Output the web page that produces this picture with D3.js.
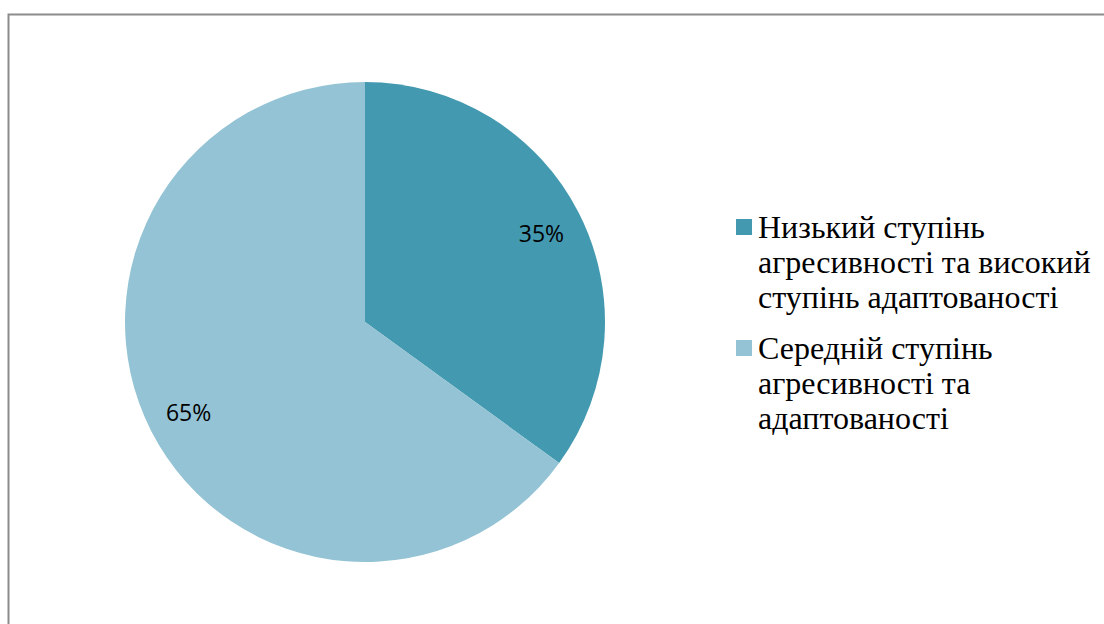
<!DOCTYPE html>
<meta charset="utf-8">
<style>
  body { margin: 0; background: #fff; }
  svg { display: block; }
</style>
<body>
<div id="chart"></div>
<script src="https://cdn.jsdelivr.net/npm/d3@7"></script>
<script>

var categories = [
  ["Низький ступінь", "агресивності та високий", "ступінь адаптованості"],
  ["Середній ступінь", "агресивності та", "адаптованості"]
];
var values = [35, 65];
var labels = ["35%", "65%"];
var colors = ["#4399b0", "#93c3d4"];

var width = 1104,
    height = 624;

var svg = d3.select("#chart").append("svg")
    .attr("width", width)
    .attr("height", height);

// chart frame (runs off right & bottom)
svg.append("rect")
    .attr("x", 8.5)
    .attr("y", 14.5)
    .attr("width", width)
    .attr("height", height)
    .attr("fill", "none")
    .attr("stroke", "#8c8c8c")
    .attr("stroke-width", 2);

var cx = 365, cy = 322, r = 240;

var pie = d3.pie().sort(null);
var arc = d3.arc().innerRadius(0).outerRadius(r);
var labelArc = d3.arc().innerRadius(198).outerRadius(198);

var g = svg.append("g").attr("transform", "translate(" + cx + "," + cy + ")");

var slices = g.selectAll("g.slice")
    .data(pie(values))
  .enter().append("g")
    .attr("class", "slice");

slices.append("path")
    .attr("d", arc)
    .attr("fill", function(d, i) { return colors[i]; });

slices.append("text")
    .attr("transform", function(d) { return "translate(" + labelArc.centroid(d) + ")"; })
    .attr("text-anchor", "middle")
    .attr("dy", 9.5)
    .style("font-family", "'Open Sans'")
    .style("font-size", "23px")
    .attr("fill", "#000")
    .text(function(d, i) { return labels[i]; });

// legend
var legendTop = [219, 340];
var lineGap = 35;

var legend = svg.selectAll("g.legend")
    .data(categories)
  .enter().append("g")
    .attr("class", "legend");

legend.append("rect")
    .attr("x", 736)
    .attr("y", function(d, i) { return legendTop[i]; })
    .attr("width", 16)
    .attr("height", 16)
    .attr("fill", function(d, i) { return colors[i]; });

legend.each(function(lines, i) {
  d3.select(this).selectAll("text")
      .data(lines)
    .enter().append("text")
      .attr("x", 758)
      .attr("y", function(t, j) { return legendTop[i] + 19 + j * lineGap; })
      .style("font-family", "'Liberation Serif', serif")
      .style("font-size", "32px")
      .attr("fill", "#000")
      .text(function(t) { return t; });
});

</script>
</body>
